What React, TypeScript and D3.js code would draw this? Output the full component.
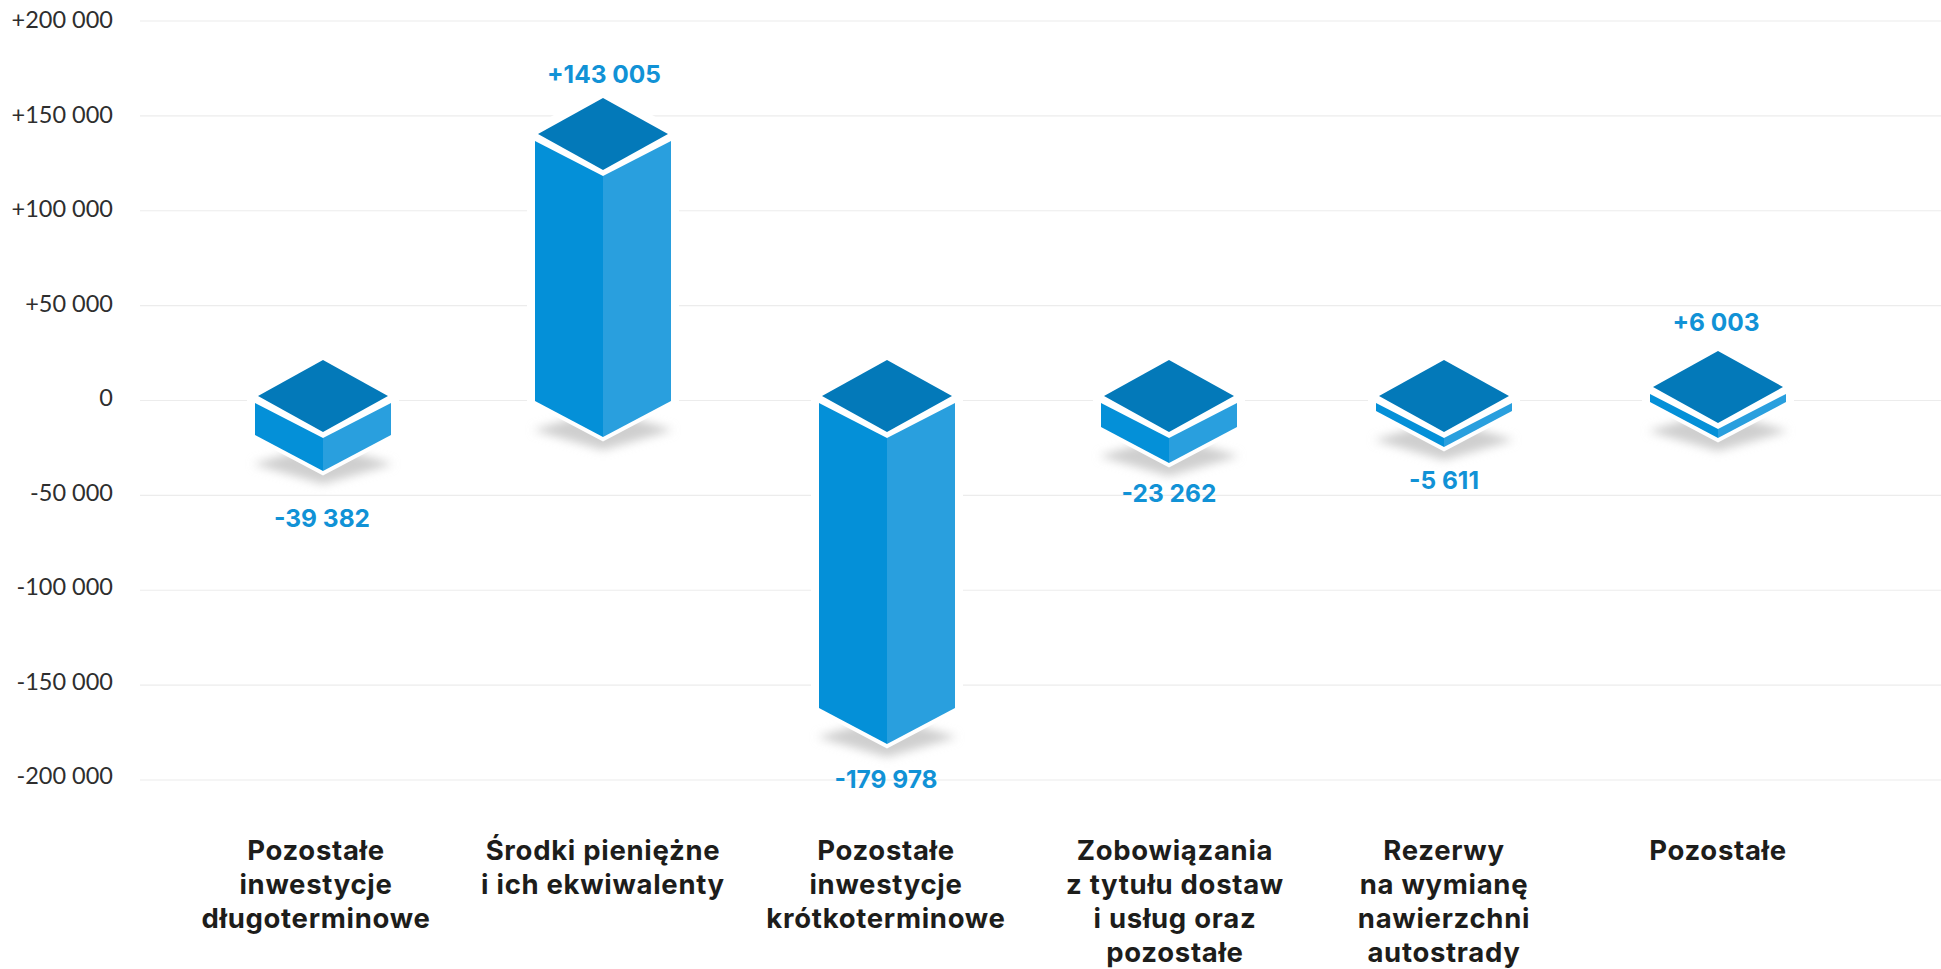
import React from "react";
import * as d3 from "d3";

const categories = [
  ["Pozostałe", "inwestycje", "długoterminowe"],
  ["Środki pieniężne", "i ich ekwiwalenty"],
  ["Pozostałe", "inwestycje", "krótkoterminowe"],
  ["Zobowiązania", "z tytułu dostaw", "i usług oraz", "pozostałe"],
  ["Rezerwy", "na wymianę", "nawierzchni", "autostrady"],
  ["Pozostałe"],
];
const values = [-39382, 143005, -179978, -23262, -5611, 6003];
const valueLabels = ["-39 382", "+143 005", "-179 978", "-23 262", "-5 611", "+6 003"];
const ticks = [200000, 150000, 100000, 50000, 0, -50000, -100000, -150000, -200000];
const tickLabels = ["+200 000", "+150 000", "+100 000", "+50 000", "0", "-50 000", "-100 000", "-150 000", "-200 000"];

const W = 1941;
const H = 969;
const TOP = "#0379b9";
const LEFT = "#0490d8";
const RIGHT = "#299fde";
const VALUE_COLOR = "#1192d6";
const BOLD_FONT = "Inter, 'Noto Sans', sans-serif";

export default function App() {
  const y = d3.scaleLinear().domain([-200000, 200000]).range([780, 21]);
  const tickBaseline = d3.scaleLinear().domain([-200000, 200000]).range([784, 28]);
  const idx = categories.map((_, i) => i);
  const x = d3.scaleOrdinal<number, number>().domain(idx).range([323, 603, 887, 1169, 1444, 1718]);
  const labelX = d3.scaleOrdinal<number, number>().domain(idx).range([316, 603, 886, 1175, 1444, 1718]);
  const valueX = d3.scaleOrdinal<number, number>().domain(idx).range([322, 604, 886, 1169, 1444, 1716]);
  // The infographic's columns are only loosely proportional: these scales carry its drawn depths.
  const faceTop = d3.scaleLinear().domain([-179978, 0, 6003, 143005]).range([403, 403, 394, 141]);
  const faceBottom = d3
    .scaleLinear()
    .domain([-179978, -39382, -23262, -5611, 6003, 143005])
    .range([708, 435, 427, 411, 402, 401]);
  const valueBaseline = d3
    .scaleLinear()
    .domain([-179978, -39382, -23262, -5611, 6003, 143005])
    .range([788, 527, 502, 489, 331, 83]);
  const line = d3.line<[number, number]>();

  const HW = 68;
  const SLOPE = 35;
  const DHW = 65;
  const DHH = 36;

  return (
    <svg
      width={W}
      height={H}
      viewBox={`0 0 ${W} ${H}`}
      style={{ position: "absolute", left: 0, top: 0, background: "#fff", display: "block" }}
    >
      <defs>
        <filter id="sh" x="-30%" y="-60%" width="160%" height="220%">
          <feGaussianBlur stdDeviation="5" />
        </filter>
      </defs>
      <style>{`html,body{margin:0;overflow:hidden}`}</style>

      {ticks.map((t, i) => (
        <g key={t}>
          <line x1={140} x2={W} y1={y(t)} y2={y(t)} stroke="#ececec" strokeWidth={1.2} />
          <text
            x={113}
            y={tickBaseline(t)}
            textAnchor="end"
            fontFamily="Lato, sans-serif"
            fontSize={23.5}
            fill="#2e2e2e"
          >
            {tickLabels[i]}
          </text>
        </g>
      ))}

      {values.map((v, i) => {
        const cx = x(i);
        const ft = faceTop(v);
        const fb = faceBottom(v);
        const dc = ft - 7;
        const hull: [number, number][] = [
          [cx, dc - DHH],
          [cx + HW, ft - 7],
          [cx + HW, fb],
          [cx, fb + SLOPE + 1],
          [cx - HW, fb],
          [cx - HW, ft - 7],
        ];
        const shadow: [number, number][] = [
          [cx - HW - 2, fb + 29],
          [cx, fb + 9],
          [cx + HW + 2, fb + 29],
          [cx, fb + 49],
        ];
        const left: [number, number][] = [
          [cx - HW, ft],
          [cx, ft + SLOPE],
          [cx, fb + SLOPE + 1],
          [cx - HW, fb],
        ];
        const right: [number, number][] = [
          [cx + HW, ft],
          [cx, ft + SLOPE],
          [cx, fb + SLOPE + 1],
          [cx + HW, fb],
        ];
        const top: [number, number][] = [
          [cx, dc - DHH],
          [cx + DHW, dc],
          [cx, dc + DHH],
          [cx - DHW, dc],
        ];
        return (
          <g key={i}>
            <path d={line(hull) + "Z"} fill="#fff" stroke="#fff" strokeWidth={16} strokeLinejoin="round" />
            <path d={line(shadow) + "Z"} fill="#cfcfcf" filter="url(#sh)" />
            <path d={line(hull) + "Z"} fill="#fff" stroke="#fff" strokeWidth={8} strokeLinejoin="miter" />
            <path d={line(left) + "Z"} fill={LEFT} />
            <path d={line(right) + "Z"} fill={RIGHT} />
            <path d={line(top) + "Z"} fill={TOP} />
            <text
              x={valueX(i)}
              y={valueBaseline(v)}
              textAnchor="middle"
              fontFamily={BOLD_FONT}
              fontWeight={700}
              fontSize={24.5}
              fill={VALUE_COLOR}
            >
              {valueLabels[i]}
            </text>
            <text
              textAnchor="middle"
              fontFamily={BOLD_FONT}
              fontWeight={700}
              fontSize={27.5}
              letterSpacing={0.7}
              fill="#1d1d1b"
            >
              {categories[i].map((l, k) => (
                <tspan key={k} x={labelX(i)} y={860 + k * 34}>
                  {l}
                </tspan>
              ))}
            </text>
          </g>
        );
      })}
    </svg>
  );
}
